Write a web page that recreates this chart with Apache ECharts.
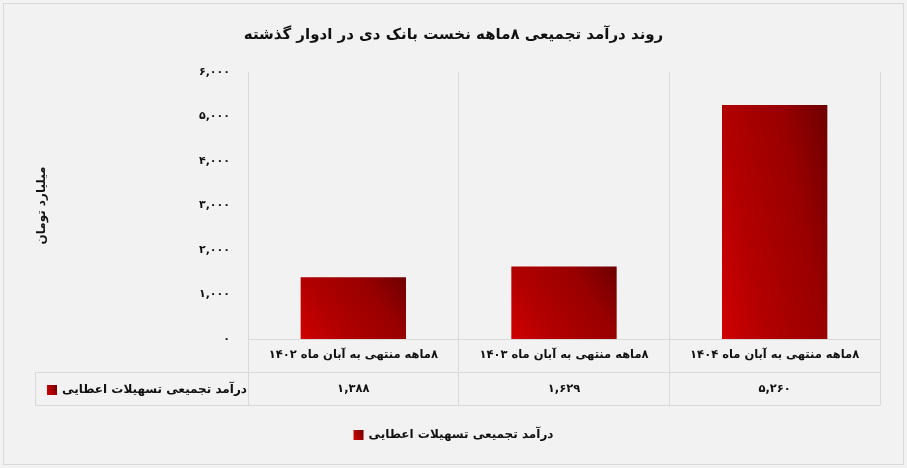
<!DOCTYPE html>
<html><head><meta charset="utf-8">
<script src="https://cdn.jsdelivr.net/npm/echarts@6/dist/echarts.min.js"></script>
<style>html,body{margin:0;padding:0;background:#f2f2f2}#c{width:907px;height:468px}</style>
</head><body><div id="c"></div>
<script>
const titleText = 'روند درآمد تجمیعی ۸ماهه نخست بانک دی در ادوار گذشته';
const yAxisName = 'میلیارد تومان';
const seriesName = 'درآمد تجمیعی تسهیلات اعطایی';
const categories = ['۸ماهه منتهی به آبان ماه ۱۴۰۲', '۸ماهه منتهی به آبان ماه ۱۴۰۳', '۸ماهه منتهی به آبان ماه ۱۴۰۴'];
const values = [1388, 1629, 5260];
const yMin = 0, yMax = 6000, yStep = 1000;

const RLM = '\u200F';
const FONT = 'Tahoma, "DejaVu Sans", sans-serif';
function fa(n){
  const s = Math.round(n).toString().replace(/\B(?=(\d{3})+(?!\d))/g, ',');
  return s.replace(/\d/g, d => '۰۱۲۳۴۵۶۷۸۹'[+d]);
}
const gridColor = '#d9d9d9';
const gradStops = [
  {offset: 0, color: '#cf0000'},
  {offset: 0.3, color: '#b20000'},
  {offset: 0.7, color: '#980000'},
  {offset: 1, color: '#6e0000'}
];
// diagonal gradient in the bar's own (normalized) space, like office charts
function barGradient(w, h){
  const k = 0.44;
  const gx = 1 / ((1 + k) * w), gy = -k / ((1 + k) * h);
  const g2 = gx * gx + gy * gy;
  const dx = gx / g2, dy = gy / g2;
  return new echarts.graphic.LinearGradient(0, 1, dx / w, 1 + dy / h, gradStops);
}

const chart = echarts.init(document.getElementById('c'), null, {renderer: 'canvas'});
chart.setOption({
  backgroundColor: '#f2f2f2',
  animation: false,
  textStyle: {fontFamily: FONT},
  title: {
    text: RLM + titleText, left: 'center', top: 23,
    textStyle: {fontFamily: FONT, fontSize: 15, fontWeight: 'bold', color: '#111'}
  },
  legend: [
    {
      data: [seriesName], left: 42, top: 379, icon: 'rect', itemWidth: 10, itemHeight: 10, itemGap: 6,
      formatter: n => RLM + n,
      textStyle: {fontFamily: FONT, fontSize: 12, fontWeight: 'bold', color: '#111'}
    },
    {
      data: [seriesName], left: 'center', top: 424, icon: 'rect', itemWidth: 10, itemHeight: 10,
      formatter: n => RLM + n,
      textStyle: {fontFamily: FONT, fontSize: 12, fontWeight: 'bold', color: '#111'}
    }
  ],
  grid: {left: 248, right: 27, top: 72, bottom: 129, containLabel: false},
  xAxis: [
    {
      type: 'category', data: categories, position: 'bottom',
      axisLine: {show: true, lineStyle: {color: gridColor}},
      axisTick: {show: true, length: 66, interval: 0, lineStyle: {color: gridColor}},
      splitLine: {show: true, interval: 0, lineStyle: {color: gridColor}},
      axisLabel: {
        interval: 0, margin: 10, formatter: v => RLM + v,
        fontFamily: FONT, fontSize: 11.5, fontWeight: 'bold', color: '#111'
      }
    },
    {
      type: 'category', data: categories, position: 'bottom', offset: 34,
      axisLine: {show: false}, axisTick: {show: false}, splitLine: {show: false},
      axisLabel: {
        interval: 0, margin: 10,
        formatter: (v, i) => fa(values[i]),
        fontFamily: FONT, fontSize: 11.5, fontWeight: 'bold', color: '#111'
      }
    }
  ],
  yAxis: {
    type: 'value', min: yMin, max: yMax, interval: yStep,
    name: RLM + yAxisName, nameLocation: 'middle', nameRotate: 90, nameGap: 200,
    nameTextStyle: {fontFamily: FONT, fontSize: 12, fontWeight: 'bold', color: '#111'},
    axisLine: {show: false}, axisTick: {show: false},
    splitLine: {show: false},
    axisLabel: {
      margin: 18, formatter: v => fa(v),
      fontFamily: FONT, fontSize: 11, fontWeight: 'bold', color: '#111'
    }
  },
  series: [{
    name: seriesName, type: 'bar', data: values, barWidth: '50%',
    itemStyle: {color: new echarts.graphic.LinearGradient(0, 0.7, 1, 0.3, gradStops)}
  }]
  ,
  graphic: [
    {type: 'rect', silent: true, shape: {x: 3.5, y: 3.5, width: 900, height: 461},
     style: {fill: 'none', stroke: gridColor, lineWidth: 1}},
    {type: 'line', silent: true, shape: {x1: 35, y1: 372.5, x2: 880, y2: 372.5},
     style: {stroke: gridColor, lineWidth: 1}},
    {type: 'line', silent: true, shape: {x1: 35, y1: 405.5, x2: 880, y2: 405.5},
     style: {stroke: gridColor, lineWidth: 1}},
    {type: 'line', silent: true, shape: {x1: 35.5, y1: 372, x2: 35.5, y2: 405},
     style: {stroke: gridColor, lineWidth: 1}}
  ]
});

// per-bar gradient sized from the bar's rendered dimensions
const band = chart.convertToPixel({xAxisIndex: 0}, 1) - chart.convertToPixel({xAxisIndex: 0}, 0);
const barW = band * 0.5;
const y0 = chart.convertToPixel({yAxisIndex: 0}, 0);
chart.setOption({
  series: [{
    data: values.map(v => ({
      value: v,
      itemStyle: {color: barGradient(barW, Math.abs(y0 - chart.convertToPixel({yAxisIndex: 0}, v)))}
    }))
  }]
});
</script></body></html>
